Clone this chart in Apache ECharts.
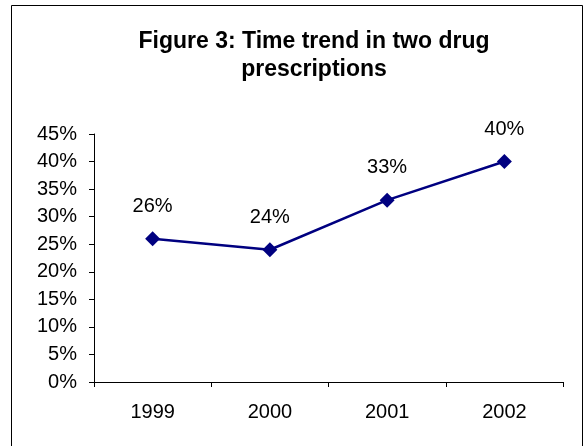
<!DOCTYPE html>
<html>
<head>
<meta charset="utf-8">
<script src="https://cdn.jsdelivr.net/npm/echarts@6/dist/echarts.min.js"></script>
<style>
  html, body { margin: 0; padding: 0; background: #fff; }
  #chart { width: 587px; height: 446px; }
</style>
</head>
<body>
<div id="chart"></div>
<script>
// data
const years = ['1999', '2000', '2001', '2002'];
const pctValues = [26, 24, 33, 40];

const chart = echarts.init(document.getElementById('chart'));

const font = 'Liberation Sans, Arial, sans-serif';

const option = {
  backgroundColor: '#fff',
  animation: false,
  title: {
    text: 'Figure 3: Time trend in two drug\nprescriptions',
    left: 309,
    top: 23,
    textAlign: 'center',
    textStyle: {
      fontFamily: font,
      fontSize: 23,
      fontWeight: 'bold',
      color: '#000',
      lineHeight: 28
    }
  },
  graphic: [
    {
      type: 'rect',
      shape: { x: 11.5, y: 5.5, width: 571, height: 500 },
      style: { fill: 'none', stroke: '#000', lineWidth: 1 },
      silent: true
    }
  ],
  grid: {
    left: 94,
    right: 24,
    top: 134,
    bottom: 64
  },
  xAxis: {
    type: 'category',
    data: years,
    boundaryGap: true,
    axisLine: { lineStyle: { color: '#000', width: 1 } },
    axisTick: { show: true, length: 5, lineStyle: { color: '#000' } },
    axisLabel: {
      color: '#000',
      fontFamily: font,
      fontSize: 20,
      margin: 20
    },
    splitLine: { show: false }
  },
  yAxis: {
    type: 'value',
    min: 0,
    max: 45,
    interval: 5,
    axisLine: { show: true, lineStyle: { color: '#000', width: 1 } },
    axisTick: { show: true, length: 5, lineStyle: { color: '#000' } },
    axisLabel: {
      color: '#000',
      fontFamily: font,
      fontSize: 20,
      margin: 17,
      formatter: '{value}%'
    },
    splitLine: { show: false }
  },
  series: [
    {
      type: 'line',
      data: pctValues,
      symbol: 'diamond',
      symbolSize: 15,
      lineStyle: { color: '#000080', width: 2.5 },
      itemStyle: { color: '#000080' },
      label: {
        show: true,
        position: 'top',
        distance: 15,
        color: '#000',
        fontFamily: font,
        fontSize: 20,
        formatter: '{c}%'
      }
    }
  ]
};

chart.setOption(option);
</script>
</body>
</html>
